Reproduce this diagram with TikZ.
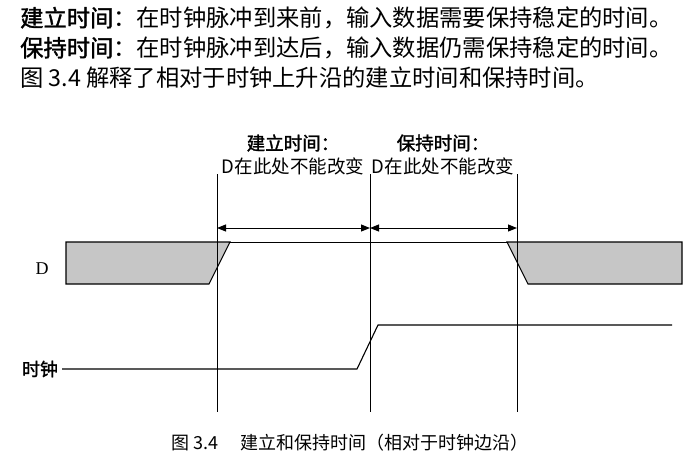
\documentclass[tikz,border=0pt]{standalone}
\usepackage{fontspec}
\setmainfont{Liberation Serif}
\newfontfamily\cjk{Noto Sans CJK SC}
\newfontfamily\cjkb{Noto Sans CJK SC}[FakeBold=1.5]
\usetikzlibrary{arrows.meta}
\begin{document}
\begin{tikzpicture}[x=1pt,y=-1pt,
  wave/.style={line width=1.1pt},
  vline/.style={line width=1pt},
  dim/.style={line width=1pt,{Triangle[length=9pt,width=7pt]}-{Triangle[length=9pt,width=7pt]}},
  txt/.style={inner sep=0pt,font=\cjk\fontsize{18.5}{20}\selectfont},
  para/.style={inner sep=0pt,anchor=west,font=\cjk\fontsize{23.3}{25}\selectfont}]
\useasboundingbox (0,0) rectangle (689,475);
\node[para] (p1) at (20,18) {{\cjkb 建立时间}：在时钟脉冲到来前，输入数据需要保持稳定的时间。};
\node[para] (p2) at (20,48) {{\cjkb 保持时间}：在时钟脉冲到达后，输入数据仍需保持稳定的时间。};
\node[para] (p3) at (20,78) {图 3.4 解释了相对于时钟上升沿的建立时间和保持时间。};
% D waveform
\filldraw[wave,fill=gray!45] (66,242) -- (230,242) -- (209,284) -- (66,284) -- cycle;
\filldraw[wave,fill=gray!45] (507,242) -- (682,242) -- (682,284) -- (528,284) -- cycle;
\draw[line width=0.9pt] (230,242) -- (507,242);
% clock
\coordinate (c0) at (62,369);
\coordinate (c1) at (357,369);
\coordinate (c2) at (378,325);
\coordinate (c3) at (672,325);
\draw[wave] (c0) -- (c1) -- (c2) -- (c3);
% vertical lines
\coordinate (v1t) at (217,174); \coordinate (v1b) at (217,412);
\coordinate (v2t) at (370,174); \coordinate (v2b) at (370,412);
\coordinate (v3t) at (517,174); \coordinate (v3b) at (517,412);
\draw[vline] (v1t) -- (v1b);
\draw[vline] (v2t) -- (v2b);
\draw[vline] (v3t) -- (v3b);
\coordinate (a1) at (217,228); \coordinate (a2) at (370,228); \coordinate (a3) at (517,228);
\draw[dim] (a1) -- (a2);
\draw[dim] (a2) -- (a3);
\node[txt,font=\cjkb\fontsize{18.5}{20}\selectfont] (s1) at (293,143) {建立时间：};
\node[txt] (s2) at (293,166) {D在此处不能改变};
\node[txt,font=\cjkb\fontsize{18.5}{20}\selectfont] (h1) at (443,143) {保持时间：};
\node[txt] (h2) at (443,166) {D在此处不能改变};
\node[txt,font=\fontsize{18}{20}\selectfont] (dl) at (42,269) {D};
\node[txt,font=\cjkb\fontsize{18}{20}\selectfont] (cl) at (40,369) {时钟};
\node[txt,font=\cjk\fontsize{18}{20}\selectfont] (cap) at (350,443) {图 3.4\quad\ 建立和保持时间（相对于时钟边沿）};
\end{tikzpicture}
\end{document}
